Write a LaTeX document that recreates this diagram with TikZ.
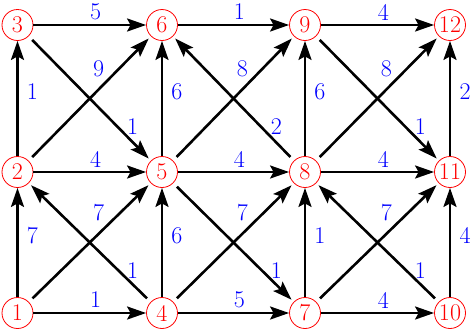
\documentclass[tikz,border=0pt]{standalone}
\usetikzlibrary{arrows.meta}
\begin{document}
\begin{tikzpicture}[x=1pt,y=-1pt,
  vtx/.style={circle,draw=red,line width=0.8pt,text=red,minimum size=31pt,inner sep=0pt,font=\fontsize{24}{24}\selectfont},
  arr/.style={line width=2.6pt,-{Stealth[length=19pt,width=13pt,inset=3.5pt]}},
  dg/.style={arr,shorten <=5pt,shorten >=3pt},
  wt/.style={text=blue,font=\fontsize{24}{24}\selectfont,inner sep=0pt},
  hl/.style={wt,pos=0.5,xshift=6pt,yshift=13pt},
  vl/.style={wt,pos=0.5,xshift=15pt,yshift=7pt},
  ul/.style={wt,pos=0.5,xshift=9pt,yshift=30pt},
  dl/.style={wt,pos=0.5,xshift=43pt,yshift=-28pt}]
\useasboundingbox (0,0) rectangle (473,330);
\node[vtx] (n1) at (17.5,313) {1};
\node[vtx] (n2) at (17.5,172) {2};
\node[vtx] (n3) at (17.5,25) {3};
\node[vtx] (n4) at (162,313) {4};
\node[vtx] (n5) at (162,172) {5};
\node[vtx] (n6) at (162,25) {6};
\node[vtx] (n7) at (305,313) {7};
\node[vtx] (n8) at (305,172) {8};
\node[vtx] (n9) at (305,25) {9};
\node[vtx] (n10) at (450,313) {10};
\node[vtx] (n11) at (450,172) {11};
\node[vtx] (n12) at (450,25) {12};
% verticals
\draw[arr] (n1) -- node[vl]{7} (n2);
\draw[arr] (n2) -- node[vl]{1} (n3);
\draw[arr] (n4) -- node[vl]{6} (n5);
\draw[arr] (n5) -- node[vl]{6} (n6);
\draw[arr] (n7) -- node[vl]{1} (n8);
\draw[arr] (n8) -- node[vl]{6} (n9);
\draw[arr] (n10) -- node[vl]{4} (n11);
\draw[arr] (n11) -- node[vl]{2} (n12);
% horizontals
\draw[arr] (n1) -- node[hl]{1} (n4);
\draw[arr] (n4) -- node[hl]{5} (n7);
\draw[arr] (n7) -- node[hl]{4} (n10);
\draw[arr] (n2) -- node[hl]{4} (n5);
\draw[arr] (n5) -- node[hl]{4} (n8);
\draw[arr] (n8) -- node[hl]{4} (n11);
\draw[arr] (n3) -- node[hl]{5} (n6);
\draw[arr] (n6) -- node[hl]{1} (n9);
\draw[arr] (n9) -- node[hl]{4} (n12);
% rising diagonals
\draw[dg] (n1) -- node[ul]{7} (n5);
\draw[dg] (n4) -- node[ul]{7} (n8);
\draw[dg] (n7) -- node[ul]{7} (n11);
\draw[dg] (n2) -- node[ul]{9} (n6);
\draw[dg] (n5) -- node[ul]{8} (n9);
\draw[dg] (n8) -- node[ul]{8} (n12);
% falling diagonals
\draw[dg] (n4) -- node[dl]{1} (n2);
\draw[dg] (n5) -- node[dl]{1} (n7);
\draw[dg] (n10) -- node[dl]{1} (n8);
\draw[dg] (n3) -- node[dl]{1} (n5);
\draw[dg] (n8) -- node[dl]{2} (n6);
\draw[dg] (n9) -- node[dl]{1} (n11);
\end{tikzpicture}
\end{document}
